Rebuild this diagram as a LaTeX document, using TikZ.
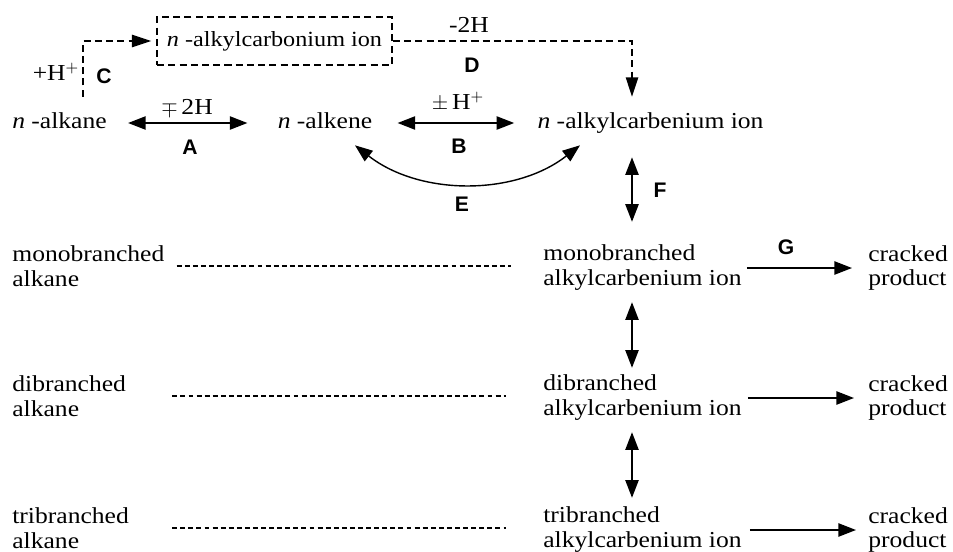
\documentclass[tikz,border=0pt]{standalone}
\usepackage{fontspec}
\setmainfont{Liberation Serif}[FakeStretch=1.12]
\newfontfamily\lblfont{Liberation Sans}
\usetikzlibrary{arrows.meta}

\tikzset{
  chem/.style={font=\fontsize{13}{14.2}\selectfont, inner sep=0pt,
    text height=9pt, text depth=2.9pt},
  chemtwo/.style={font=\fontsize{13}{14.2}\selectfont, inner sep=0pt,
    align=left, anchor=west},
  tag/.style={font={\lblfont\bfseries\fontsize{12}{12}\selectfont}, inner sep=0pt},
  cond/.style={font=\fontsize{13}{13}\selectfont, inner sep=0pt},
  solidtip/.style={-{Triangle[length=10pt,width=7.5pt]}, line width=1pt},
  biarrow/.style={{Triangle[length=10pt,width=7.5pt]}-{Triangle[length=10pt,width=7.5pt]}, line width=1pt},
  dasharrow/.style={-{Triangle[length=11pt,width=7pt]}, line width=0.9pt,
    dash pattern=on 4pt off 2.4pt},
  dashlink/.style={line width=0.85pt, dash pattern=on 2.8pt off 1.8pt},
  dashbox/.style={draw, line width=0.9pt, dash pattern=on 4pt off 2.4pt,
    minimum width=4.7cm, minimum height=0.96cm, inner sep=0pt,
    font=\fontsize{12.3}{13}\selectfont},
}

\begin{document}
\begin{tikzpicture}[x=0.02cm, y=-0.02cm]
\useasboundingbox (0,0) rectangle (953,551);

% column positions of the vertical connectors
\coordinate (cx) at (83,0);
\coordinate (colx) at (632,0);

% top row
\node[chem] (alkane) at (59.5,123) {\textit{n} -alkane};
\node[chem] (alkene) at (325,123) {\textit{n} -alkene};
\node[chem] (carb) at (650.5,123) {\textit{n} -alkylcarbenium ion};
\node[dashbox] (carbonium) at (274.5,41) {\textit{n} -alkylcarbonium ion};

% branched alkanes
\node[chemtwo] (alk1) at (12,266) {monobranched\\alkane};
\node[chemtwo] (alk2) at (12,396) {dibranched\\alkane};
\node[chemtwo] (alk3) at (12,528) {tribranched\\alkane};

% branched carbenium ions
\node[chemtwo] (ion1) at (543,268) {monobranched\\alkylcarbenium ion};
\node[chemtwo] (ion2) at (543,398) {dibranched\\alkylcarbenium ion};
\node[chemtwo] (ion3) at (543,530) {tribranched\\alkylcarbenium ion};

% cracked products
\node[chemtwo] (crk1) at (868,268) {cracked\\product};
\node[chemtwo] (crk2) at (868,398) {cracked\\product};
\node[chemtwo] (crk3) at (868,530) {cracked\\product};

% reaction conditions and step letters
\node[cond] (condA) at (187,108) {$\mp$\,2H};
\node[tag] (tagA) at (190,147) {A};
\node[cond] (condB) at (458,102) {$\pm$\,H$^{+}$};
\node[tag] (tagB) at (459,146) {B};
\node[cond] (condC) at (56,72) {+H$^{+}$};
\node[tag] (tagC) at (104,76) {C};
\node[cond] (condD) at (469,25) {-2H};
\node[tag] (tagD) at (472,65) {D};
\node[tag] (tagE) at (462,204) {E};
\node[tag] (tagF) at (660,190) {F};
\node[tag] (tagG) at (786,247) {G};

% A and B: reversible steps
\draw[biarrow, shorten <=0.42cm, shorten >=0.6cm] (alkane.east) -- (alkene.west);
\draw[biarrow, shorten <=0.5cm, shorten >=0.46cm] (alkene.east) -- (carb.west);

% C and D: route through the carbonium ion
\draw[dasharrow, shorten <=0.31cm, shorten >=0.1cm] (alkane.north -| cx) |- (carbonium.west);
\draw[dasharrow, shorten >=0.31cm] (carbonium.east) -| (carb.north -| colx);

% E: curved exchange between alkene and carbenium ion
\draw[biarrow, line width=0.8pt]
  ([xshift=0.6cm,yshift=-0.23cm]alkene.south)
  .. controls (420,196) and (515,196) ..
  ([xshift=-1.41cm,yshift=-0.23cm]carb.south);

% F and the branching ladder
\draw[biarrow, shorten <=0.47cm, shorten >=0.46cm] (carb.south -| colx) -- (ion1.north -| colx);
\draw[biarrow, line width=0.8pt, shorten <=0.22cm, shorten >=0.14cm] (ion1.south -| colx) -- (ion2.north -| colx);
\draw[biarrow, line width=0.8pt, shorten <=0.22cm, shorten >=0.18cm] (ion2.south -| colx) -- (ion3.north -| colx);

% G: cracking
\draw[solidtip, shorten <=0.1cm, shorten >=0.32cm] (ion1.east) -- (crk1.west);
\draw[solidtip, shorten <=0.12cm, shorten >=0.28cm] (ion2.east) -- (crk2.west);
\draw[solidtip, shorten <=0.16cm, shorten >=0.24cm] (ion3.east) -- (crk3.west);

% equilibrium links between alkanes and ions
\draw[dashlink, shorten <=0.24cm, shorten >=0.64cm] (alk1.east) -- (ion1.west |- alk1.east);
\draw[dashlink, shorten <=0.92cm, shorten >=0.74cm] (alk2.east) -- (ion2.west |- alk2.east);
\draw[dashlink, shorten <=0.86cm, shorten >=0.74cm] (alk3.east) -- (ion3.west |- alk3.east);
\end{tikzpicture}
\end{document}
